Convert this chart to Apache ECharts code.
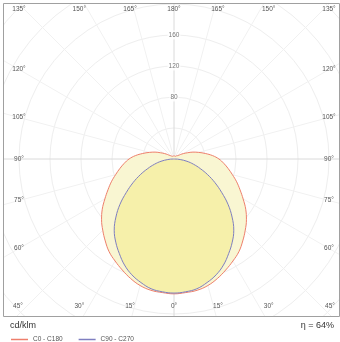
<!DOCTYPE html>
<html><head><meta charset="utf-8">
<script src="https://cdn.jsdelivr.net/npm/echarts@6/dist/echarts.min.js"></script>
<style>html,body{margin:0;padding:0;background:#fff}#c{width:340px;height:342px}</style>
</head><body><div id="c"></div>
<script>
// gamma angles (degrees from nadir)
const gammaAngles = [0,5,10,15,20,25,30,35,40,45,50,55,60,65,70,75,80,85,90,95,100,105,110,115,120,125,130,135,140,145,150,155,160,165,170,175,180];
// luminous intensity, cd/klm
const c0c180 = [174,173,172,169,164,158,152,146,138,130,122,113,103,94,86,78,71,64.5,58,50,41,33,26,19,14,10,7,6,5,5,4,4,4,4,4,4,4];
const c90c270 = [173,172,170,165,159,151,141,131,120,106,91,75,61,48,36,26,17,8,1,0,0,0,0,0,0,0,0,0,0,0,0,0,0,0,0,0,0];
const ringLabelValues = [80,120,160];
const angleTickValues = [0,15,30,45,60,75,90,105,120,135,150,165,180];
const seriesNames = ['C0 - C180','C90 - C270'];
const unitLabel = 'cd/klm';
const efficiencyLabel = 'η = 64%';

const FONT = '"Liberation Sans", Arial, sans-serif';
const cx = 174, cy = 159;
const RMAX = 320, RPX = 248;
const RED = '#ee7f6c', BLUE = '#7f7fc0';

function toPolar(values){
  const pts = [];
  for (let i = gammaAngles.length-1; i >= 0; i--) pts.push([values[i], 180 - gammaAngles[i]]);
  for (let i = 1; i < gammaAngles.length; i++) pts.push([values[i], 180 + gammaAngles[i]]);
  return pts;
}

function labelPos(g, s){
  const rad = g*Math.PI/180;
  if (g === 45) return [cx + s*156, 306];
  if (g === 135) return [cx + s*155, 9];
  if (g < 45) return [cx + s*164*Math.tan(rad), 306];
  if (g > 135) return [cx + s*164*Math.tan(Math.PI - rad), 9];
  return [cx + s*155, cy + 155/Math.tan(rad)];
}

const graphics = [
  {type:'rect', shape:{x:0,y:0,width:340,height:3}, style:{fill:'#fff'}, z:100, silent:true},
  {type:'rect', shape:{x:0,y:0,width:3,height:342}, style:{fill:'#fff'}, z:100, silent:true},
  {type:'rect', shape:{x:339,y:0,width:1,height:342}, style:{fill:'#fff'}, z:100, silent:true},
  {type:'rect', shape:{x:0,y:317,width:340,height:25}, style:{fill:'#fff'}, z:100, silent:true},
  {type:'rect', shape:{x:3.5,y:3.5,width:336,height:313}, style:{fill:null, stroke:'#a0a0a0', lineWidth:1}, z:101, silent:true},
  {type:'text', left:10, top:321, style:{text:unitLabel, font:'9px '+FONT, fill:'#333'}, z:102},
  {type:'text', right:6, top:321, style:{text:efficiencyLabel, font:'9px '+FONT, fill:'#333'}, z:102}
];
angleTickValues.forEach(g => {
  const sides = (g === 0 || g === 180) ? [1] : [-1, 1];
  sides.forEach(s => {
    const p = labelPos(g, s);
    graphics.push({type:'text', x:p[0], y:p[1], style:{text:g+'°', font:'6.5px '+FONT, fill:'#555', align:'center', verticalAlign:'middle'}, z:102});
  });
});

const chart = echarts.init(document.getElementById('c'), null, {renderer:'canvas'});
chart.setOption({
  animation:false,
  backgroundColor:'#fff',
  polar:{center:[cx, cy], radius:RPX},
  angleAxis:{type:'value', min:0, max:360, interval:15, startAngle:90, clockwise:true,
    axisLine:{show:false}, axisTick:{show:false}, axisLabel:{show:false},
    splitLine:{show:true, lineStyle:{width:1, color:['#dadada','#f1f1f1','#f1f1f1','#f1f1f1','#f1f1f1','#f1f1f1']}}},
  radiusAxis:{type:'value', min:0, max:RMAX, interval:40,
    axisLine:{show:false}, axisTick:{show:false}, axisLabel:{show:false},
    splitLine:{show:true, lineStyle:{width:1, color:'#eeeeee'}}},
  legend:{left:6, top:331, z:300, icon:'rect', itemWidth:17, itemHeight:1.5, itemGap:16,
    textStyle:{fontSize:6.5, color:'#555', fontFamily:FONT},
    data:[{name:seriesNames[0], itemStyle:{color:RED}}, {name:seriesNames[1], itemStyle:{color:BLUE}}]},
  graphic:graphics,
  series:[
    {name:seriesNames[0], type:'line', coordinateSystem:'polar', data:toPolar(c0c180), showSymbol:false, symbol:'none', smooth:0.4,
      color:RED, itemStyle:{color:RED}, lineStyle:{color:RED, width:1}, areaStyle:{color:'#f9f6d2', opacity:1}, z:3},
    {name:seriesNames[1], type:'line', coordinateSystem:'polar', data:toPolar(c90c270), showSymbol:false, symbol:'none', smooth:0.4,
      color:BLUE, itemStyle:{color:BLUE}, lineStyle:{color:BLUE, width:1}, areaStyle:{color:'#f6f0aa', opacity:1}, z:4},
    {type:'scatter', coordinateSystem:'polar', data:ringLabelValues.map(v => [v, 0]), symbolSize:1,
      itemStyle:{color:'rgba(0,0,0,0)'}, silent:true, z:5,
      label:{show:true, position:'inside', formatter:p => String(p.value[0]), fontSize:6.5, color:'#555', fontFamily:FONT,
        backgroundColor:'#fff', padding:[1,1]}}
  ]
});
</script>
</body></html>
